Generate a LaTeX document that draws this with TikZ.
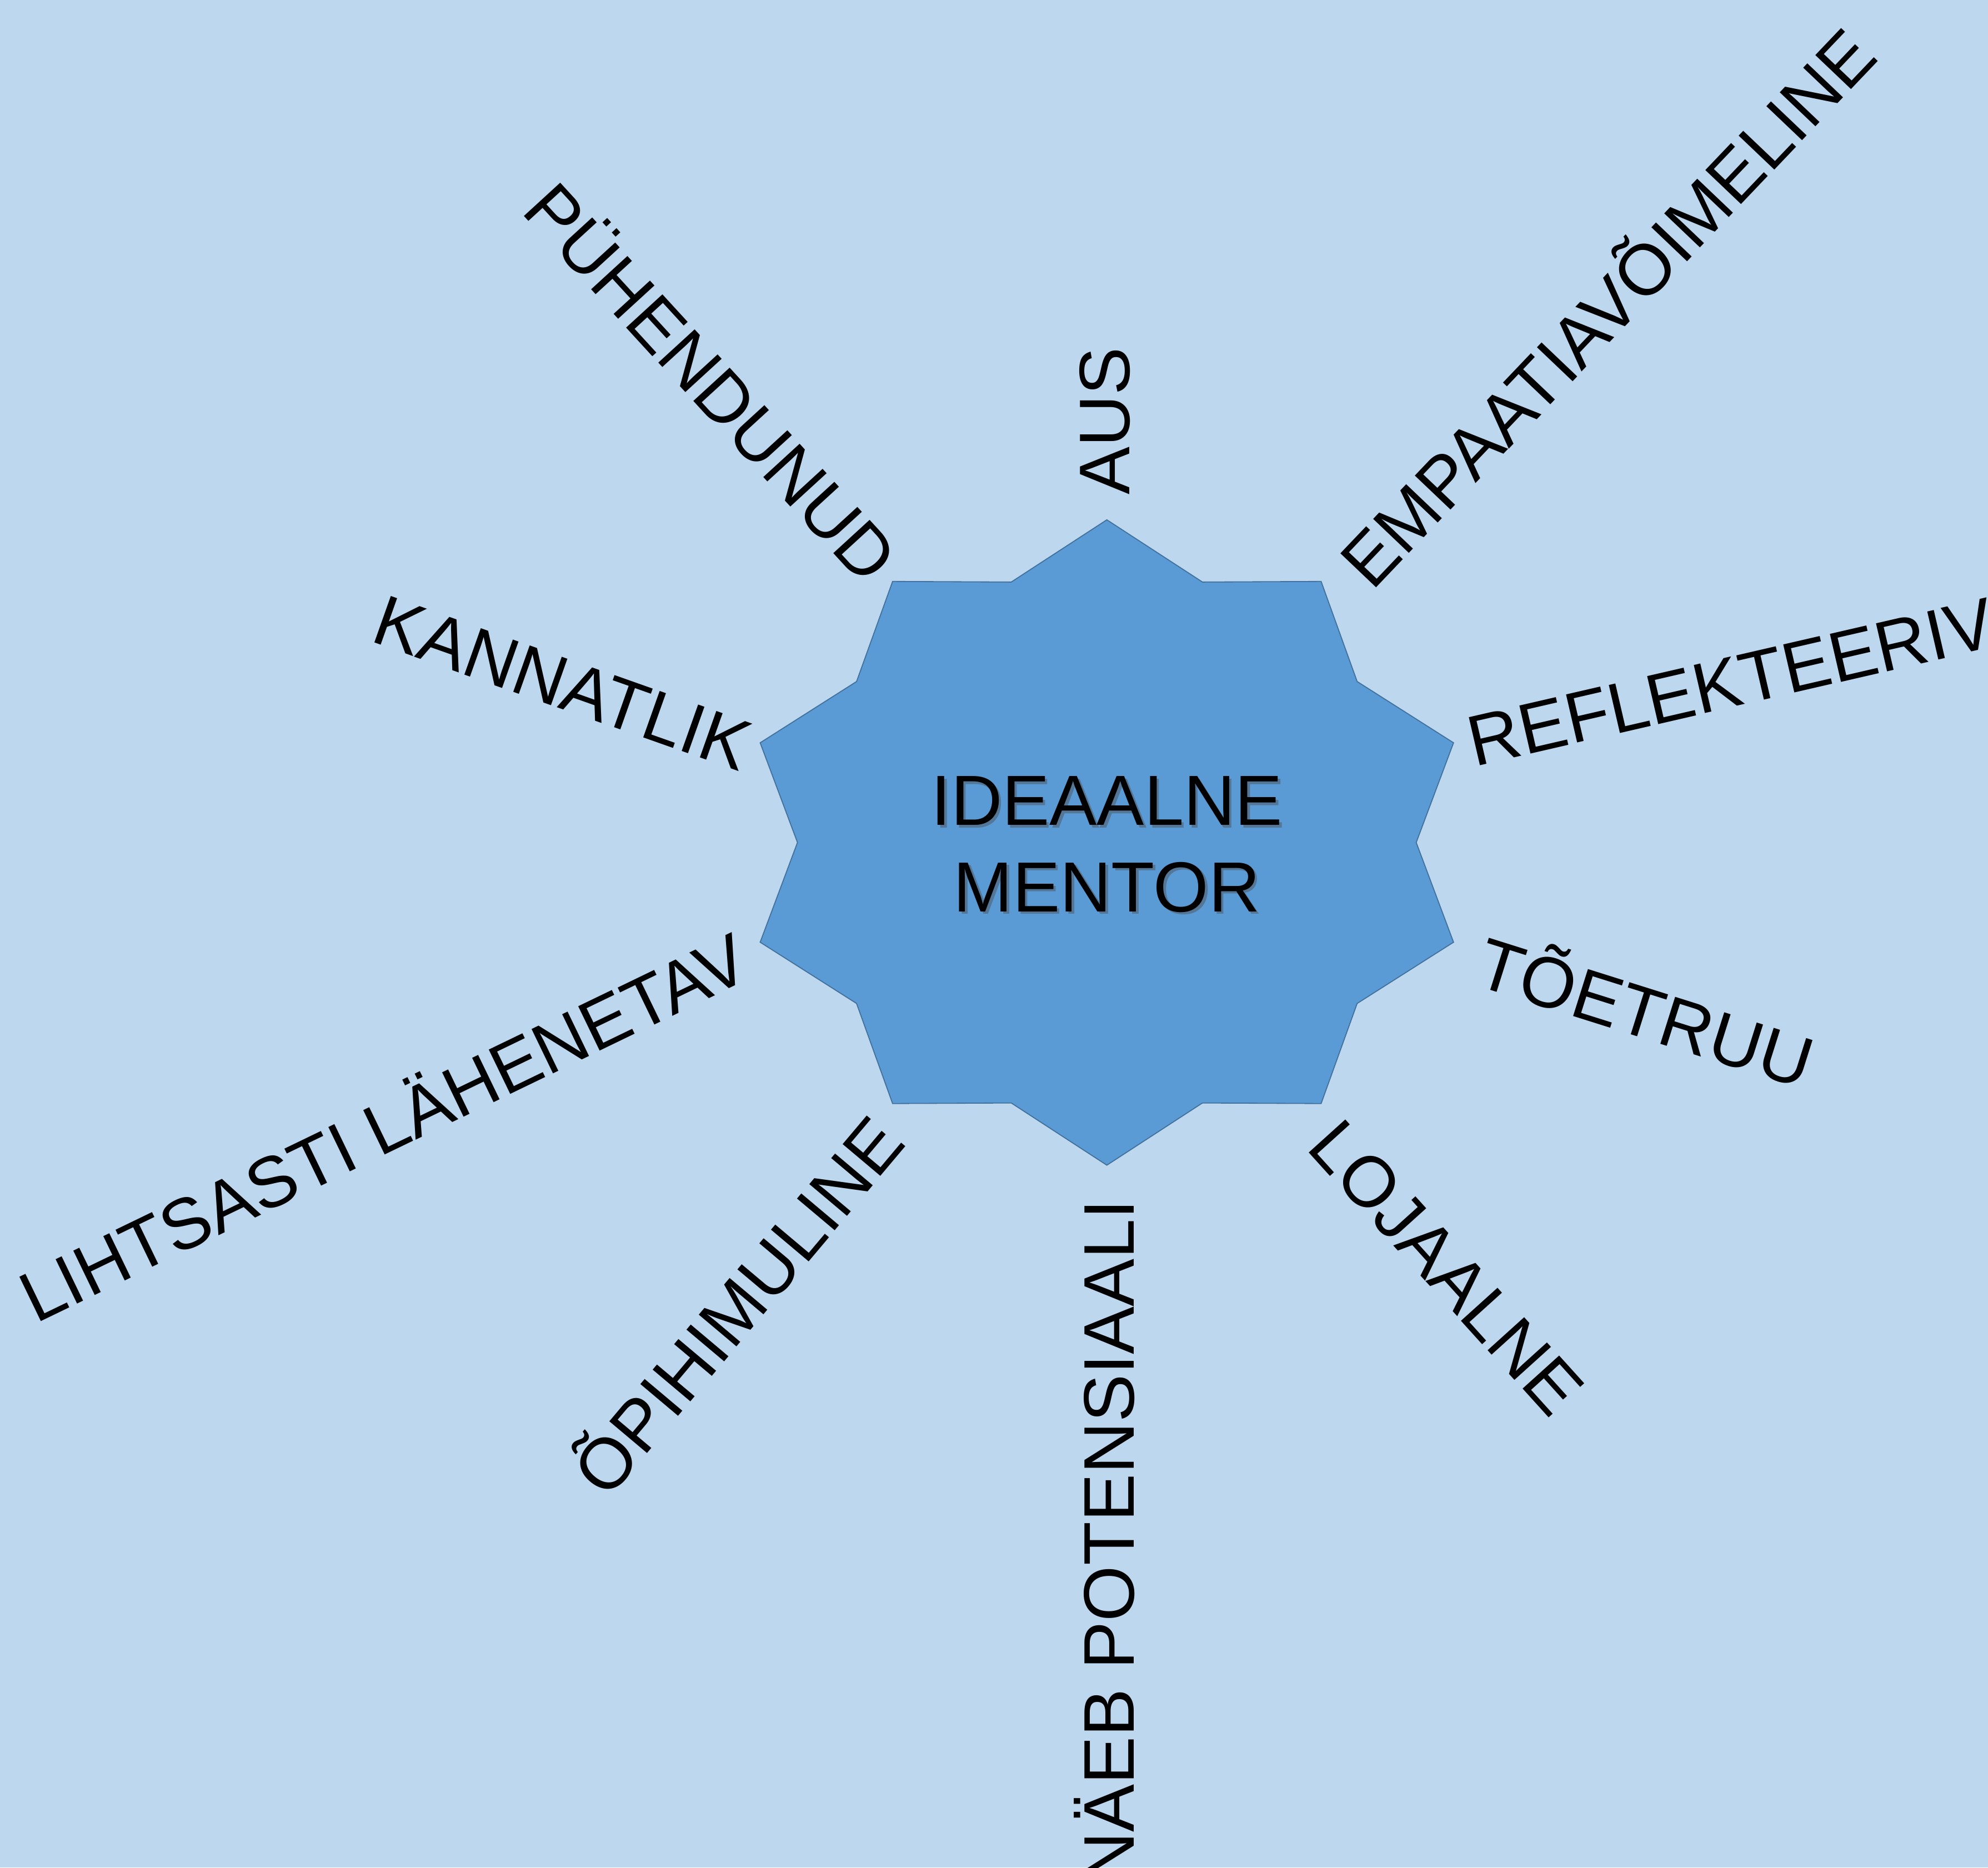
\documentclass[tikz,border=0pt]{standalone}
\usepackage{fontspec}
\setmainfont{Liberation Sans}
\definecolor{bgblue}{HTML}{BDD7EE}
\definecolor{starblue}{HTML}{5B9BD5}
\definecolor{staredge}{HTML}{41719C}
\begin{document}
\begin{tikzpicture}[x=1pt, y=-1pt,
    word/.style={font=\fontsize{56.5}{68}\selectfont, inner sep=0pt,
      text height=40.5pt, text depth=0pt, anchor=center},
    core/.style={font=\fontsize{56}{68}\selectfont, inner sep=0pt, align=center}]
  \fill[bgblue] (0,0) rectangle (1568,1473);
  \useasboundingbox (0,0) rectangle (1568,1473);
  \coordinate (mid) at (873,664.5);
  % ten pointed star
  \draw[staredge, fill=starblue, line width=0.8pt, shift={(mid)}]
    (90:287.5 and 254.5)
    \foreach \a in {0,...,9} {-- (108+36*\a:244 and 216) -- (126+36*\a:287.5 and 254.5)}
    -- cycle;
  \node[core, text=black!70, opacity=0.45] (idealshadow) at (875,668) {IDEAALNE\\MENTOR};
  \node[core] (ideal) at (873,666) {IDEAALNE\\MENTOR};
  % words around the star
  \node[word, rotate=90] (aus) at (870.5,332) {AUS};
  \node[word, rotate=-47.5] (puhendunud) at (561,301.5) {PÜHENDUNUD};
  \node[word, rotate=46.4] (empaatia) at (1268,242.7) {EMPAATIAVÕIMELINE};
  \node[word, rotate=-19.5] (kannatlik) at (444,538) {KANNATLIK};
  \node[word, rotate=13] (reflekteeriv) at (1365,537.3) {REFLEKTEERIV};
  \node[word, rotate=-17.5] (toetruu) at (1298,798.4) {TÕETRUU};
  \node[word, rotate=-47.9] (lojaalne) at (1141.4,999.3) {LOJAALNE};
  \node[word, rotate=90] (potensiaal) at (874,1216) {NÄEB POTENSIAALI};
  \node[word, rotate=49.9] (opihimuline) at (582,1030) {ÕPIHIMULINE};
  \node[word, rotate=25.8] (lahenetav) at (302.5,889) {LIHTSASTI LÄHENETAV};
\end{tikzpicture}
\end{document}
